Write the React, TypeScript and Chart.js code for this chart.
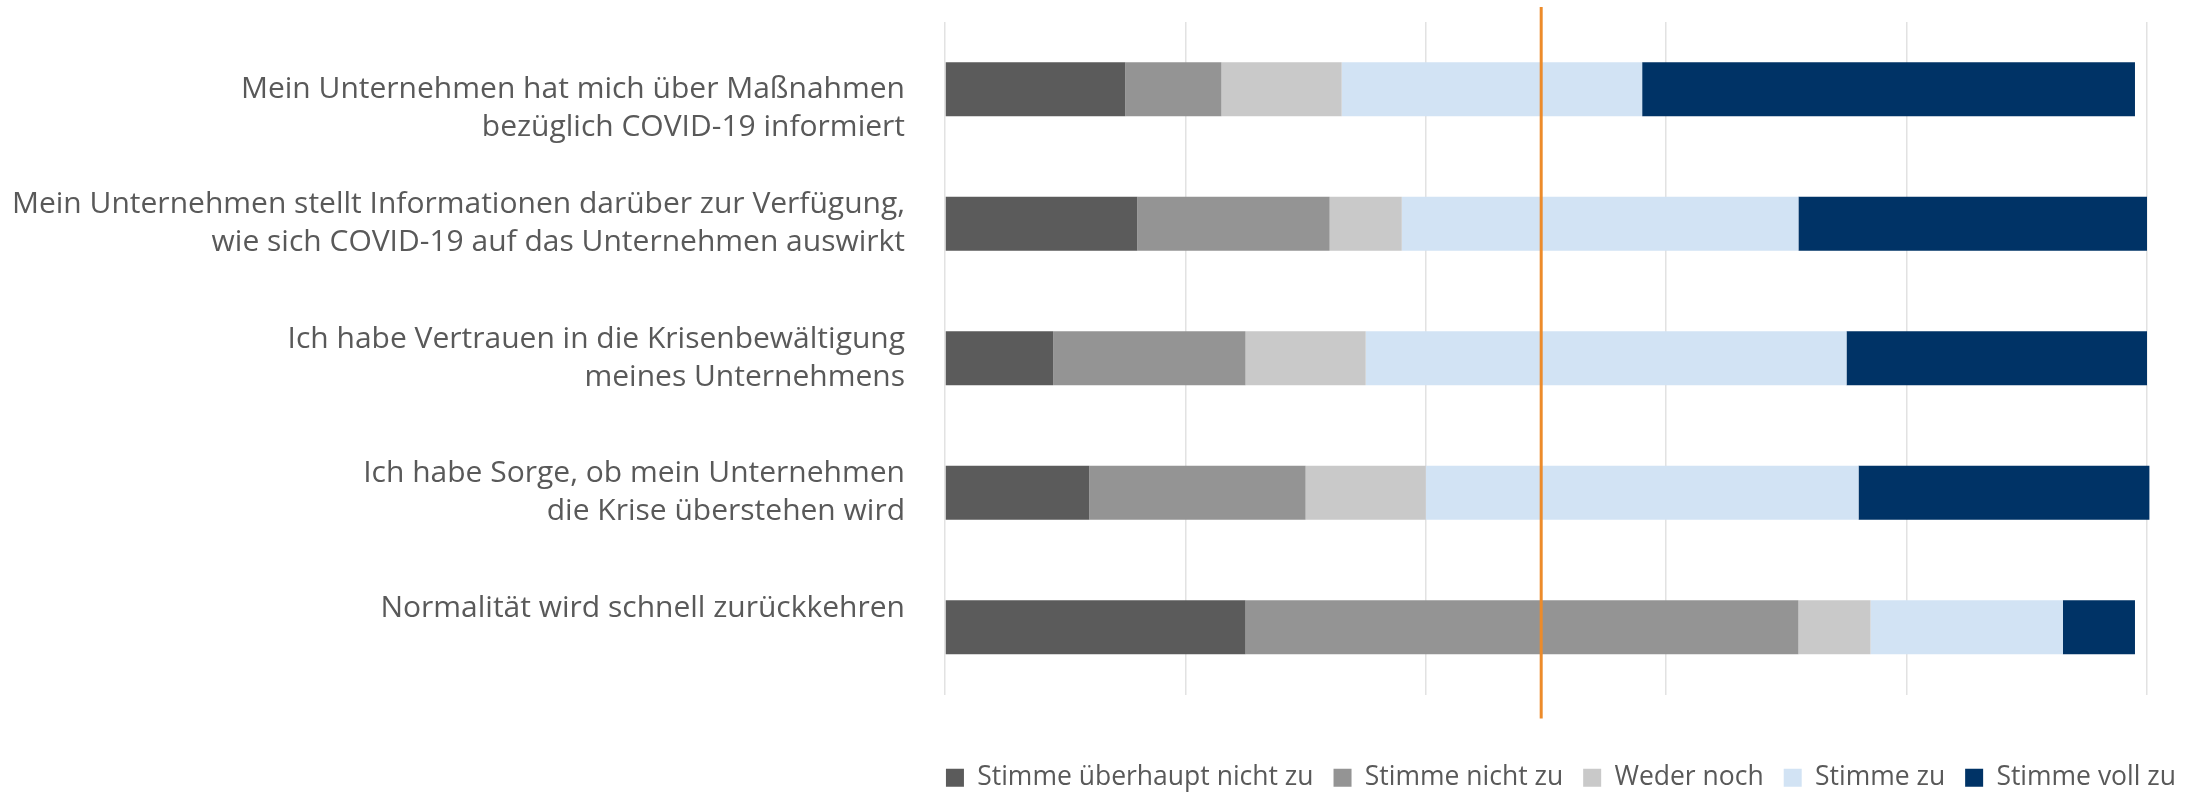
import React, { useEffect, useRef } from 'react';
import { Chart, registerables } from 'chart.js';

Chart.register(...registerables);

// ---- data ----
const categories: string[][] = [
  ['', 'Mein Unternehmen hat mich über Maßnahmen', 'bezüglich COVID-19 informiert'],
  ['Mein Unternehmen stellt Informationen darüber zur Verfügung,', 'wie sich COVID-19 auf das Unternehmen auswirkt'],
  ['Ich habe Vertrauen in die Krisenbewältigung', 'meines Unternehmens'],
  ['Ich habe Sorge, ob mein Unternehmen', 'die Krise überstehen wird'],
  ['Normalität wird schnell zurückkehren', ''],
];

const seriesNames = [
  'Stimme überhaupt nicht zu',
  'Stimme nicht zu',
  'Weder noch',
  'Stimme zu',
  'Stimme voll zu',
];

const stimmeUeberhauptNichtZu = [15, 16, 9, 12, 25];
const stimmeNichtZu = [8, 16, 16, 18, 46];
const wederNoch = [10, 6, 10, 10, 6];
const stimmeZu = [25, 33, 40, 36, 16];
const stimmeVollZu = [41, 29, 25, 24.2, 6];

const xTicks = [0, 20, 40, 60, 80, 100];
const referenceValue = 49.6;

const seriesColors = ['#5B5B5B', '#949494', '#C9C9C9', '#D2E3F4', '#003366'];

const refLinePlugin = {
  id: 'refLine',
  afterDatasetsDraw(chart: any) {
    const { ctx, chartArea, scales } = chart;
    const x = scales.x.getPixelForValue(referenceValue);
    ctx.save();
    ctx.strokeStyle = '#ED8B2A';
    ctx.lineWidth = 3;
    ctx.beginPath();
    ctx.moveTo(x, chartArea.top - 15);
    ctx.lineTo(x, chartArea.bottom + 24);
    ctx.stroke();
    ctx.restore();
  },
};

export default function App() {
  const canvasRef = useRef<HTMLCanvasElement | null>(null);

  useEffect(() => {
    if (!canvasRef.current) return;
    const values = [stimmeUeberhauptNichtZu, stimmeNichtZu, wederNoch, stimmeZu, stimmeVollZu];
    const chart = new Chart(canvasRef.current, {
      type: 'bar',
      data: {
        labels: categories,
        datasets: values.map((v, i) => ({
          label: seriesNames[i],
          data: v,
          backgroundColor: seriesColors[i],
          borderWidth: 0,
          barPercentage: 0.4,
          categoryPercentage: 1,
          clip: false as any,
          yAxisID: 'y',
        })),
      },
      options: {
        indexAxis: 'y',
        responsive: true,
        maintainAspectRatio: false,
        animation: false,
        layout: { padding: { top: 22, left: 0, right: 4, bottom: 0 } },
        plugins: {
          tooltip: { enabled: false },
          legend: {
            position: 'bottom',
            align: 'end',
            labels: {
              boxWidth: 18,
              boxHeight: 18,
              padding: 20,
              color: '#595959',
              font: { family: '"Open Sans"', size: 26.5 },
            },
          },
        },
        scales: {
          x: {
            type: 'linear',
            stacked: true,
            min: xTicks[0],
            max: xTicks[xTicks.length - 1],
            afterBuildTicks: (scale: any) => {
              scale.ticks = xTicks.map((v) => ({ value: v }));
            },
            ticks: { display: false },
            grid: { color: '#E2E2E2', lineWidth: 1.5, drawTicks: false },
            border: { display: false },
            afterFit: (scale: any) => {
              scale.height = 50;
              scale.paddingLeft = 0;
              scale.paddingRight = 0;
            },
          },
          y: {
            type: 'category',
            stacked: true,
            position: 'left',
            grid: { display: false, drawTicks: false },
            border: { display: false },
            ticks: {
              color: '#595959',
              padding: 40,
              font: { family: '"Open Sans"', size: 30, lineHeight: 1.26 },
            },
            afterFit: (scale: any) => {
              scale.width = 945;
              scale.paddingTop = 0;
              scale.paddingBottom = 0;
            },
          },
          yPad: {
            type: 'linear',
            position: 'right',
            display: true,
            grid: { display: false, drawTicks: false },
            border: { display: false },
            ticks: { display: false },
            afterFit: (scale: any) => {
              scale.width = 49;
              scale.paddingTop = 0;
              scale.paddingBottom = 0;
            },
          },
        },
      },
      plugins: [refLinePlugin],
    } as any);
    return () => chart.destroy();
  }, []);

  return (
    <div style={{ position: 'fixed', left: 0, top: 0, width: '2200px', height: '801px', background: '#fff' }}>
      <canvas ref={canvasRef} />
    </div>
  );
}
